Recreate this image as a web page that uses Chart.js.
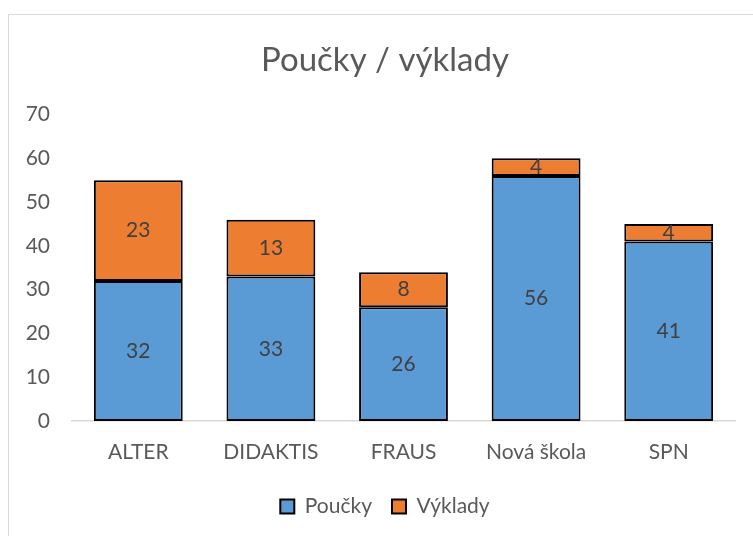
<!DOCTYPE html>
<html>
<head>
<meta charset="utf-8">
<script src="https://cdn.jsdelivr.net/npm/chart.js@4"></script>
<style>
  body { margin: 0; overflow: hidden; background: #fff; }
  #frame { position: absolute; left: 8px; top: 14px; width: 800px; height: 600px; border: 1.5px solid #d9d9d9; }
  #wrap { position: absolute; left: 0; top: 0; width: 753px; height: 536px; }
</style>
</head>
<body>
<div id="frame"></div>
<div id="wrap"><canvas id="pouckyChart"></canvas></div>
<script>
    // data
    const categories = ['ALTER', 'DIDAKTIS', 'FRAUS', 'Nová škola', 'SPN'];
    const poucky = [32, 33, 26, 56, 41];
    const vyklady = [23, 13, 8, 4, 4];
    const yTicks = [0, 10, 20, 30, 40, 50, 60, 70];

    Chart.defaults.font.family = 'Lato, "Open Sans", sans-serif';

    // values in the middle of each bar segment
    const barLabels = {
        id: 'barLabels',
        afterDatasetsDraw(chart) {
            const c = chart.ctx;
            c.save();
            c.font = '21px Lato';
            c.fillStyle = '#404040';
            c.textAlign = 'center';
            c.textBaseline = 'middle';
            chart.data.datasets.forEach((ds, i) => {
                chart.getDatasetMeta(i).data.forEach((bar, j) => {
                    c.fillText(ds.data[j], bar.x, (bar.y + bar.base) / 2);
                });
            });
            c.restore();
        }
    };

    let ctx = document.getElementById('pouckyChart').getContext('2d');
    let chart = new Chart(ctx, {
        type: 'bar',
        data: {
            labels: categories,
            datasets: [{
                label: 'Poučky',
                data: poucky,
                backgroundColor: '#5b9bd5',
                borderColor: '#000000',
                borderWidth: 2,
                borderSkipped: false
            }, {
                label: 'Výklady',
                data: vyklady,
                backgroundColor: '#ed7d31',
                borderColor: '#000000',
                borderWidth: 2,
                borderSkipped: false
            }]
        },
        options: {
            responsive: true,
            maintainAspectRatio: false,
            animation: false,
            barPercentage: 0.67,
            categoryPercentage: 1,
            // the excel frame runs past the right edge, so title/legend centre a bit right
            layout: { padding: { top: 14, right: 0, bottom: 9, left: 17 } },
            plugins: {
                title: {
                    display: true,
                    text: 'Poučky / výklady',
                    color: '#595959',
                    font: { size: 33, weight: 'normal' },
                    padding: { top: 27, bottom: 34 }
                },
                legend: {
                    position: 'bottom',
                    labels: {
                        color: '#595959',
                        font: { size: 21 },
                        boxWidth: 14,
                        boxHeight: 14,
                        padding: 20
                    }
                },
                tooltip: { enabled: false }
            },
            scales: {
                x: {
                    stacked: true,
                    grid: { display: false, drawTicks: false },
                    border: { display: true, color: '#d9d9d9', width: 1.5 },
                    ticks: { color: '#595959', font: { size: 21 }, padding: 19 },
                    afterFit(scale) { scale.height = 55; }
                },
                y: {
                    stacked: true,
                    min: 0,
                    max: 70,
                    afterBuildTicks(scale) { scale.ticks = yTicks.map(v => ({ value: v })); },
                    grid: { display: false, drawTicks: false },
                    border: { display: false },
                    ticks: { color: '#595959', font: { size: 21 }, padding: 22 },
                    afterFit(scale) { scale.width = 55; }
                },
                // empty axis just to keep space on the right
                yRight: {
                    position: 'right',
                    grid: { display: false, drawTicks: false },
                    border: { display: false },
                    ticks: { display: false },
                    afterFit(scale) { scale.width = 18; }
                }
            }
        },
        plugins: [barLabels]
    });
</script>
</body>
</html>
